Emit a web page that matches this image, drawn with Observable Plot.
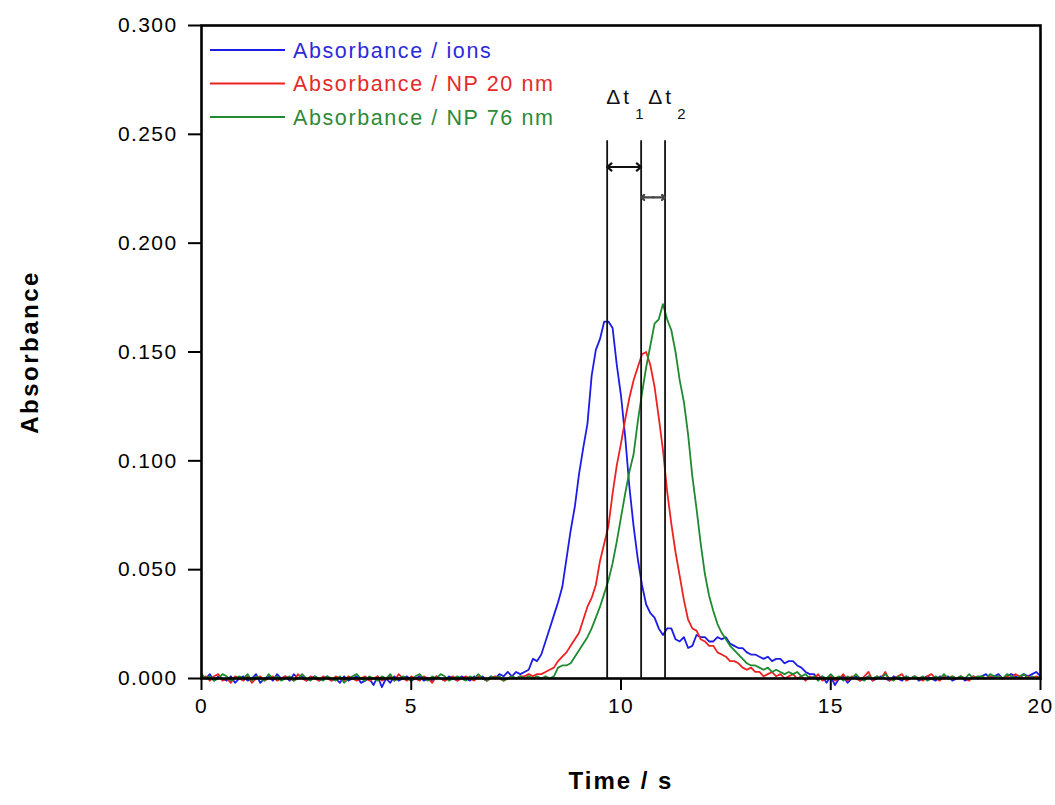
<!DOCTYPE html>
<html><head><meta charset="utf-8">
<script src="https://cdn.jsdelivr.net/npm/d3@7"></script>
<script src="https://cdn.jsdelivr.net/npm/@observablehq/plot@0.6"></script>
<style>html,body{margin:0;padding:0;background:#fff;} svg{display:block}</style>
</head><body><div id="chart"></div>
<script>
// Sampling step of the recorded traces (seconds); values below are absorbance x 1000
const timeStep = 0.1;
const seriesNames = ["Absorbance / ions", "Absorbance / NP 20 nm", "Absorbance / NP 76 nm"];
const seriesColors = ["#1c1ce6", "#ec2222", "#1f8a30"];
const legendTextColors = ["#2b2bdc", "#e42a2a", "#2d8a3a"];

const ions = [
  1, 0, 2, -1, 1, 0, -1, 1, -2, 0,
  1, -1, 0, 2, -2, 0, 1, -1, 2, 0,
  1, -1, 2, 0, 1, -1, 0, 1, -1, 0,
  1, -1, 0, -2, 1, -1, 0, 1, -2, -1,
  0, -3, 1, -4, 0, -2, 1, -1, 0, 1,
  -1, 0, 1, -1, 0, -1, 1, 0, -1, 1,
  0, -1, 1, 0, -1, 1, 0, 1, -1, 1,
  0, 2, 1, 3, 1, 3, 2, 3, 4, 9,
  8, 11, 17, 23, 29, 35, 42, 55, 68, 79,
  94, 106, 117, 139, 151, 156, 164, 164, 161, 144,
  130, 111, 88, 70, 55, 43, 34, 30, 28, 23,
  20, 23, 23, 18, 17, 19, 14, 15, 20, 19,
  19, 17, 17, 19, 18, 19, 16, 15, 14, 14,
  12, 11, 11, 10, 9, 10, 8, 9, 9, 7,
  8, 8, 6, 5, 3, 2, 2, 0, 1, -2,
  1, -3, 0, 1, -2, 0, 1, -1, 0, 1,
  -1, 0, 1, 0, -1, 1, 0, -1, 1, 0,
  1, -1, 0, 1, 0, -1, 1, 0, 1, -1,
  0, 1, -1, 0, 1, 0, 1, 2, 0, 1,
  2, 0, 1, 2, 1, 0, 2, 1, 2, 3,
  1
];
const np20 = [
  0, 1, -1, 1, 2, -1, 0, -2, 1, 0,
  -1, 1, -2, 0, 1, -1, 0, 1, -1, 0,
  1, 0, -1, 2, 0, -1, 1, 0, -1, 1,
  0, -1, 1, 0, -1, 1, 0, -1, 0, 1,
  -1, 0, 1, -1, 0, 1, -1, 2, 0, -1,
  1, 0, -1, 1, 0, -2, 1, 0, -1, 0,
  1, -1, 0, 1, 0, -1, 1, 0, -1, 0,
  1, 0, -1, 0, 1, 0, 1, 1, 2, 1,
  2, 2, 3, 4, 5, 8, 10, 12, 15, 18,
  21, 27, 33, 37, 43, 54, 62, 70, 85, 98,
  108, 119, 129, 137, 143, 149, 150, 144, 134, 120,
  105, 86, 71, 58, 47, 36, 27, 23, 22, 18,
  17, 15, 15, 12, 11, 10, 8, 8, 7, 5,
  4, 5, 3, 3, 1, 2, 3, 1, 2, 0,
  1, 2, 0, 1, -1, 1, 0, 2, -1, 0,
  1, -1, 0, 2, -1, 1, 0, -1, 1, 3,
  -1, 1, 0, 3, -1, 0, 1, 2, -1, 0,
  1, 0, -1, 1, 2, 0, -1, 1, 0, 1,
  0, 1, 0, -1, 1, 0, 1, 0, 1, 0,
  1, 0, 1, 0, 2, 1, 0, 1, 0, 1,
  0
];
const np76 = [
  2, 0, 1, -1, 0, 2, 1, -1, 0, 1,
  0, 2, -1, 1, 0, -1, 2, 0, 1, -1,
  0, 1, -1, 0, 2, 0, -1, 1, 0, -1,
  1, 0, -1, 1, -2, 0, 1, 2, 0, -1,
  1, 0, -1, 1, 0, 2, -1, 0, 1, 0,
  -1, 1, 2, 0, -1, 1, 0, 2, 1, -1,
  0, 1, 0, -1, 1, 0, 2, 0, -1, 1,
  0, 1, -1, 0, 1, 0, 1, 0, 1, 0,
  1, 0, 1, 0, 1, 5, 6, 6, 7, 10,
  13, 16, 19, 23, 28, 33, 39, 45, 53, 63,
  74, 85, 95, 103, 118, 131, 143, 153, 163, 165,
  172, 165, 160, 150, 137, 127, 112, 93, 78, 62,
  48, 38, 31, 25, 21, 18, 15, 13, 11, 9,
  7, 6, 6, 5, 4, 5, 3, 4, 3, 2,
  3, 2, 3, 1, 2, 0, 1, -1, 1, 0,
  2, 0, 1, -1, 1, 0, 2, 0, -1, 1,
  0, 1, 0, 2, 0, -1, 1, 0, 1, 0,
  1, 0, 1, -1, 0, 1, 0, 2, 0, 1,
  0, 1, 0, 2, 0, 1, 1, 0, 2, 1,
  1, 0, 2, 1, 0, 1, 2, 0, 1, 0,
  1
];

const xTicks = [0, 5, 10, 15, 20];
const yTicks = [0, 0.05, 0.1, 0.15, 0.2, 0.25, 0.3];

// Annotation: retention-time markers and the Δt intervals between them
const markerTimes = [9.67, 10.48, 11.05];
const markerTop = 0.247;
const arrowLevels = [0.235, 0.221];
const deltaLabels = ["1", "2"];

const data = [];
[ions, np20, np76].forEach((arr, k) => arr.forEach((v, i) => data.push({t: +(i * timeStep).toFixed(1), a: v / 1000, s: seriesNames[k]})));

const arrowHalves = [];
arrowLevels.forEach((lv, i) => {
  const a = markerTimes[i], b = markerTimes[i + 1], m = (a + b) / 2;
  arrowHalves.push({x1: m, x2: a, level: lv, k: i}, {x1: m, x2: b, level: lv, k: i});
});
const deltas = deltaLabels.map((sub, i) => ({x: markerTimes[i], sub}));

const font = "'Liberation Sans', Arial, Helvetica, sans-serif";

const deltaMark = (i, dx) => [
  Plot.text([deltas[i]], {x: "x", text: () => "Δt", frameAnchor: "top", lineAnchor: "middle", dy: 72, dx, textAnchor: "start", fontSize: 21, fill: "#111"}),
  Plot.text([deltas[i]], {x: "x", text: "sub", frameAnchor: "top", lineAnchor: "middle", dy: 89, dx: dx + 29, textAnchor: "start", fontSize: 15, fill: "#111"})
];

const chart = Plot.plot({
  width: 1055, height: 805,
  marginLeft: 201, marginRight: 15, marginTop: 25, marginBottom: 127,
  style: {fontFamily: font, fontSize: "21px", color: "#000", background: "#fff"},
  x: {domain: [0, 20]},
  y: {domain: [0, 0.3]},
  color: {domain: seriesNames, range: seriesColors},
  marks: [
    Plot.line(data, {x: "t", y: "a", z: "s", stroke: "s", strokeWidth: 1.8}),
    Plot.ruleX(markerTimes, {y1: 0, y2: markerTop, stroke: "#111", strokeWidth: 1.8}),
    Plot.arrow(arrowHalves, {x1: "x1", x2: "x2", y1: "level", y2: "level", stroke: d => d.k === 0 ? "#111" : "#444", strokeWidth: 2.2, headLength: 9, headAngle: 80, inset: 0}),
    ...deltaMark(0, -1),
    ...deltaMark(1, 7),
    Plot.axisX({ticks: xTicks, tickSize: 12, tickPadding: 8, fontSize: 21, label: null, strokeWidth: 2}),
    Plot.axisY({ticks: yTicks, tickSize: 13, tickPadding: 11, tickFormat: d3.format(".3f"), fontSize: 21, label: null, strokeWidth: 2}),
    Plot.frame({strokeWidth: 2.6, stroke: "#000"}),
    Plot.text(["Absorbance"], {frameAnchor: "left", textAnchor: "middle", dx: -171, rotate: -90, fontWeight: "bold", fontSize: 24}),
    Plot.text(["Time / s"], {frameAnchor: "bottom", dy: 110, fontWeight: "bold", fontSize: 24})
  ]
});

const svg = d3.select(chart);
// the reference's lettering is slightly wide; open it up a little
svg.selectAll('g[aria-label="y-axis tick label"], g[aria-label="x-axis tick label"]').attr("letter-spacing", "1.4px");
svg.selectAll("text").each(function() {
  const s = this.textContent;
  if (s === "Absorbance") d3.select(this).attr("letter-spacing", "2.5px");
  if (s === "Time / s") d3.select(this).attr("letter-spacing", "2px");
  if (s === "Δt") d3.select(this).attr("letter-spacing", "3px");
});

// Legend inside the frame, top-left
const lg = svg.append("g").attr("font-family", font).attr("font-size", 21.5).attr("text-anchor", "start").attr("letter-spacing", "1.6px");
seriesNames.forEach((name, i) => {
  const y = 50 + i * 33.5;
  lg.append("line").attr("x1", 210).attr("x2", 285).attr("y1", y).attr("y2", y)
    .attr("stroke", seriesColors[i]).attr("stroke-width", 1.8);
  lg.append("text").attr("x", 293).attr("y", y).attr("dy", "0.35em")
    .attr("fill", legendTextColors[i]).text(name);
});

document.getElementById("chart").appendChild(chart);
</script>
</body></html>
